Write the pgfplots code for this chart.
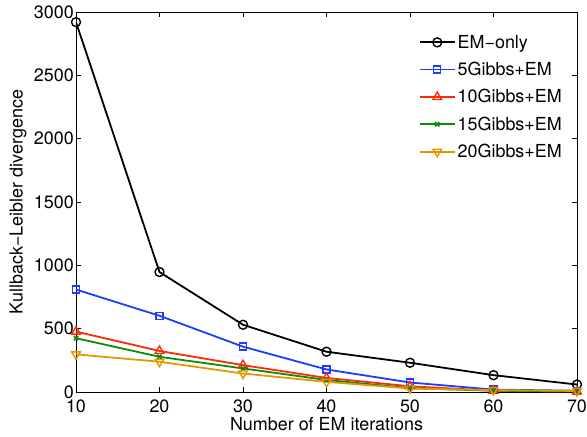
\documentclass[border=0pt]{standalone}
\usepackage{fontspec}
\setmainfont{TeX Gyre Heros}
\usepackage{pgfplots}
\pgfplotsset{compat=1.18}
\definecolor{mblue}{RGB}{30,60,255}
\definecolor{mred}{RGB}{255,40,10}
\definecolor{mgreen}{RGB}{10,140,10}
\definecolor{morange}{RGB}{230,150,0}
\begin{document}
\begin{tikzpicture}
\useasboundingbox (-76bp,-45bp) rectangle (511bp,392bp);
\begin{axis}[
  at={(0,0)}, anchor=south west,
  scale only axis,
  width=501bp, height=380bp,
  xmin=10, xmax=70, ymin=0, ymax=3000,
  xtick={10,20,...,70},
  ytick={0,500,...,3000},
  tick align=inside,
  major tick length=5bp,
  tick style={black, line width=0.5pt},
  axis line style={line width=0.7pt},
  scaled ticks=false,
  /pgf/number format/assume math mode=true,
  /pgf/number format/set thousands separator={},
  tick label style={font=\fontsize{18}{21}\selectfont},
  xticklabel style={inner sep=1bp, yshift=-7bp},
  yticklabel style={inner sep=2bp},
  label style={font=\fontsize{18}{21}\selectfont},
  xlabel={Number of EM iterations},
  ylabel={Kullback−Leibler divergence},
  xlabel style={at={(axis description cs:0.5,-0.0842)}, anchor=center},
  ylabel style={at={(axis description cs:-0.1158,0.5)}, anchor=center},
  every axis plot/.append style={line width=1.8pt},
  legend style={draw=none, fill=none, at={(axis description cs:0.684,0.945)}, anchor=north west,
    font=\fontsize{18}{21}\selectfont, row sep=8.5bp, cells={anchor=west},
    inner sep=0pt},
  legend image code/.code={\draw[mark repeat=2,mark phase=2] plot coordinates {(0bp,0bp) (17.5bp,0bp) (35bp,0bp)};},
]
\addplot[black, mark=o, mark size=4.5pt, mark options={line width=1.4pt}] coordinates {
(10,2920) (20,947) (30,531) (40,318) (50,231) (60,133) (70,59)};
\addlegendentry{EM−only}
\addplot[mblue, mark=square, mark size=3.5pt, mark options={line width=1.4pt}] coordinates {
(10,809) (20,602) (30,358) (40,178) (50,75) (60,19) (70,10)};
\addlegendentry{5Gibbs+EM}
\addplot[mred, mark=triangle, mark size=5pt, mark options={line width=1.4pt}] coordinates {
(10,477) (20,324) (30,212) (40,111) (50,45) (60,10) (70,5)};
\addlegendentry{10Gibbs+EM}
\addplot[mgreen, mark=x, mark size=3pt, mark options={line width=1.6pt}] coordinates {
(10,425) (20,278) (30,186) (40,95) (50,30) (60,10) (70,5)};
\addlegendentry{15Gibbs+EM}
\addplot[morange, mark=triangle, mark size=5pt, mark options={line width=1.4pt, rotate=180}] coordinates {
(10,297) (20,239) (30,146) (40,80) (50,28) (60,15) (70,8)};
\addlegendentry{20Gibbs+EM}
\end{axis}
\end{tikzpicture}
\end{document}
